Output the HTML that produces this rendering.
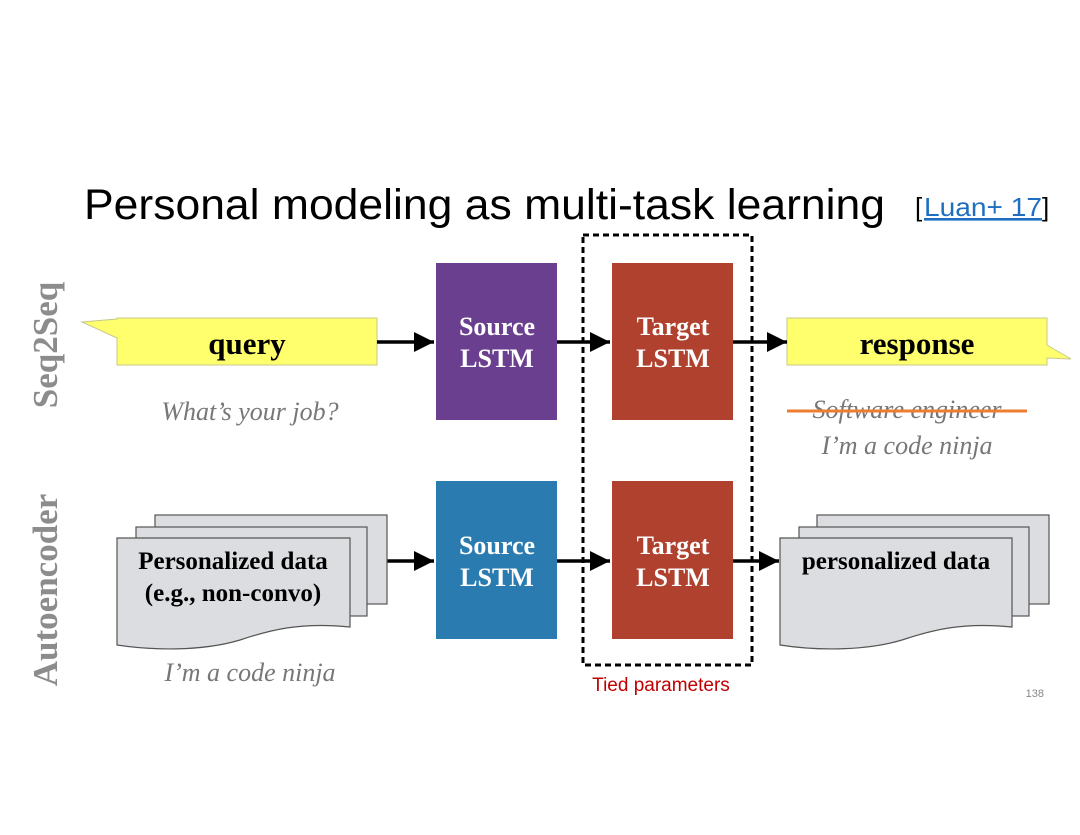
<!DOCTYPE html>
<html><head><meta charset="utf-8"><style>
html,body{margin:0;padding:0;background:#fff;}
svg{display:block;}
</style></head><body>
<svg width="1080" height="835" viewBox="0 0 1080 835" xmlns="http://www.w3.org/2000/svg">
<defs>
<marker id="ah2" viewBox="0 0 10 10" markerWidth="20" markerHeight="20" refX="10" refY="5" orient="auto" markerUnits="userSpaceOnUse">
<path d="M0,0 L10,5 L0,10 Z" fill="#000"/>
</marker>
</defs>
<text x="84" y="219" font-family="Liberation Sans, sans-serif" font-size="43" fill="#000" textLength="801" lengthAdjust="spacingAndGlyphs">Personal modeling as multi-task learning</text>
<text x="915" y="216" font-family="Liberation Sans, sans-serif" font-size="26" fill="#000">[</text>
<text x="924" y="216" font-family="Liberation Sans, sans-serif" font-size="26" fill="#1f6fc0" text-decoration="underline" textLength="118" lengthAdjust="spacingAndGlyphs">Luan+ 17</text>
<text x="1042" y="216" font-family="Liberation Sans, sans-serif" font-size="26" fill="#000">]</text>

<text transform="translate(57,345) rotate(-90)" text-anchor="middle" font-family="Liberation Serif, serif" font-weight="bold" font-size="35" fill="#8c8c8c">Seq2Seq</text>
<text transform="translate(57,590) rotate(-90)" text-anchor="middle" font-family="Liberation Serif, serif" font-weight="bold" font-size="35" fill="#8c8c8c">Autoencoder</text>

<path d="M117,318 H377 V365 H117 V338 L82,322 L117,319 Z" fill="#ffff6e" stroke="#c8c88a" stroke-width="1"/>
<text x="247" y="354" text-anchor="middle" font-family="Liberation Serif, serif" font-weight="bold" font-size="31">query</text>
<path d="M787,318 H1047 V345 L1071,359 L1047,358 V365 H787 Z" fill="#ffff6e" stroke="#c8c88a" stroke-width="1"/>
<text x="917" y="354" text-anchor="middle" font-family="Liberation Serif, serif" font-weight="bold" font-size="31">response</text>

<rect x="436" y="263" width="121" height="157" fill="#6b3f8f"/>
<rect x="612" y="263" width="121" height="157" fill="#b0412f"/>
<rect x="436" y="481" width="121" height="158" fill="#2a7cb0"/>
<rect x="612" y="481" width="121" height="158" fill="#b0412f"/>
<g font-family="Liberation Serif, serif" font-weight="bold" font-size="26" fill="#fff" text-anchor="middle">
<text x="497" y="335">Source</text><text x="497" y="367">LSTM</text>
<text x="673" y="335">Target</text><text x="673" y="367">LSTM</text>
<text x="497" y="554">Source</text><text x="497" y="586">LSTM</text>
<text x="673" y="554">Target</text><text x="673" y="586">LSTM</text>
</g>

<g stroke="#000" stroke-width="3.5" fill="none">
<line x1="377" y1="342" x2="434" y2="342" marker-end="url(#ah2)"/>
<line x1="557" y1="342" x2="610" y2="342" marker-end="url(#ah2)"/>
<line x1="733" y1="342" x2="787" y2="342" marker-end="url(#ah2)"/>
<line x1="387" y1="561" x2="434" y2="561" marker-end="url(#ah2)"/>
<line x1="557" y1="561" x2="610" y2="561" marker-end="url(#ah2)"/>
<line x1="733" y1="561" x2="779" y2="561" marker-end="url(#ah2)"/>
</g>

<rect x="583" y="235" width="169" height="430" fill="none" stroke="#000" stroke-width="3" stroke-dasharray="6,4"/>
<text x="661" y="691" text-anchor="middle" font-family="Liberation Sans, sans-serif" font-size="19" fill="#c00000">Tied parameters</text>

<g fill="#dcdde0" stroke="#555" stroke-width="1.2">
<rect x="155" y="515" width="232" height="89"/>
<rect x="136" y="527" width="231" height="89"/>
<path d="M117,538 H350 V627 C300,622 270,630 240,640 C200,652 150,650 117,645 Z"/>
<rect x="817" y="515" width="232" height="89"/>
<rect x="799" y="527" width="230" height="89"/>
<path d="M780,538 H1012 V627 C962,622 932,630 902,640 C862,652 812,650 780,645 Z"/>
</g>
<g font-family="Liberation Serif, serif" font-weight="bold" font-size="25" fill="#000" text-anchor="middle">
<text x="233" y="569">Personalized data</text>
<text x="233" y="601">(e.g., non-convo)</text>
<text x="896" y="569">personalized data</text>
</g>

<g font-family="Liberation Serif, serif" font-style="italic" font-size="26" fill="#777" text-anchor="middle">
<text x="250" y="420">What’s your job?</text>
<text x="907" y="418">Software engineer</text>
<text x="907" y="454">I’m a code ninja</text>
<text x="250" y="681">I’m a code ninja</text>
</g>
<line x1="787" y1="411" x2="1027" y2="411" stroke="#ed7d31" stroke-width="3"/>
<text x="1044" y="697" text-anchor="end" font-family="Liberation Sans, sans-serif" font-size="11" fill="#888">138</text>
</svg>
</body></html>
